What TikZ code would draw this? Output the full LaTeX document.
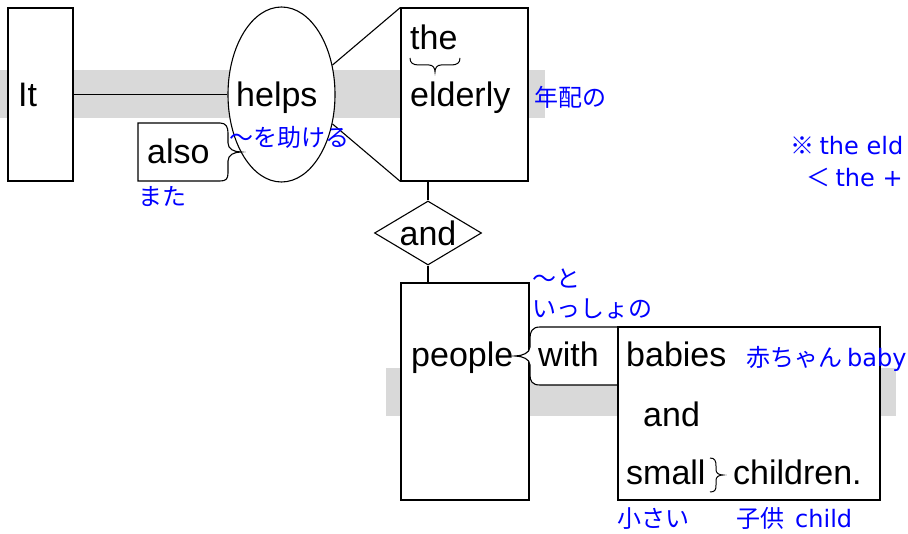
\documentclass[tikz,border=0pt]{standalone}
\usepackage{fontspec}
\setmainfont{Liberation Sans}
\newfontfamily\jpfont{Noto Sans CJK JP}
\newfontfamily\glatin{DejaVu Sans}
\usetikzlibrary{shapes.geometric}

\begin{document}
\begin{tikzpicture}[x=1pt,y=-1pt]
\tikzstyle{box} = [draw,fill=white,line width=1.1pt,inner sep=0pt]
\tikzstyle{word} = [inner sep=0pt,anchor=base west,font=\fontsize{34}{40}\selectfont]
\tikzstyle{gloss} = [inner sep=0pt,anchor=base west,text=blue,font=\jpfont\fontsize{24}{28}\selectfont]
\tikzstyle{band} = [fill=gray!30]
\tikzstyle{link} = [line width=1.1pt]

\pgfdeclarelayer{background}
\pgfsetlayers{background,main}

\useasboundingbox (0,0) rectangle (908,534);

\node[box,minimum width=65,minimum height=173] (it) at (40.5,94.5) {};
\node[box,ellipse,minimum width=107,minimum height=175] (helps) at (281.5,94.5) {};
\node[box,minimum width=127,minimum height=173] (elderly) at (464.5,94.5) {};
\node[box,diamond,aspect=1.67,minimum width=107,minimum height=64,font=\fontsize{34}{40}\selectfont] (and1) at (428,233) {and};
\node[box,minimum width=128,minimum height=217] (people) at (465,391.5) {};

\draw[link,fill=white] (618,327) -- (540,327) .. controls (532,327) and (530,332) .. (530,338) -- (530,347) .. controls (530,353) and (522,356) .. (515,356) .. controls (522,356) and (530,359) .. (530,365) -- (530,375) .. controls (530,381) and (532,385) .. (540,385) -- (618,385);
\node[box,minimum width=262,minimum height=173] (babies) at (749,413.5) {};

\draw[link,fill=white] (138,123) -- (220,123) .. controls (226,123) and (228,127) .. (228,133) -- (228,143) .. controls (228,149) and (234,152) .. (241,152) .. controls (234,152) and (228,155) .. (228,161) -- (228,173) .. controls (228,179) and (226,181) .. (220,181) -- (138,181) -- cycle;

\draw[link] (it) -- (helps);
\draw[link] (helps.30) -- (elderly.north west);
\draw[link] (helps.-30) -- (elderly.south west);
\draw[link] (and1) -- (and1 |- elderly.south);
\draw[link] (and1) -- (and1 |- people.north);

\draw[line width=1pt] (410,58) .. controls (410,63) and (413,65) .. (419,65) -- (429,65) .. controls (433,65) and (435,68) .. (435,72) .. controls (435,68) and (437,65) .. (441,65) -- (451,65) .. controls (457,65) and (460,63) .. (460,58);
\draw[line width=1pt] (710,458) .. controls (715,458) and (716,461) .. (716,466) -- (716,470) .. controls (716,473) and (719,475) .. (723,475) .. controls (719,475) and (716,477) .. (716,480) -- (716,485) .. controls (716,490) and (715,492) .. (710,492);

\node[word] (ittext) at (18,107) {It};
\node[word] (helpstext) at (236,107) {helps};
\node[word] (also) at (147,164) {also};
\node[word] (the) at (410,50) {the};
\node[word] (elderlytext) at (410,107) {elderly};
\node[word] (peopletext) at (411,367) {people};
\node[word] (with) at (538,367) {with};
\node[word] (babiestext) at (626,367) {babies};
\node[word] (and2) at (643,427) {and};
\node[word] (small) at (626,484) {small};
\node[word] (children) at (733,484) {children.};

\node[gloss] (nenpai) at (534,107) {年配の};
\node[gloss] (tasukeru) at (229,147) {〜を助ける};
\node[gloss] (mata) at (138,206) {また};
\node[gloss] (to) at (532,288) {〜と};
\node[gloss] (issho) at (532,318) {いっしょの};
\node[gloss] (akachan) at (746,367) {赤ちゃん\hspace{5pt}{\glatin baby}};
\node[gloss] (chiisai) at (617,527) {小さい};
\node[gloss] (kodomo) at (736,527) {子供\hspace{11pt}{\glatin child}};
\node[gloss] (note1) at (790,155) {※ {\glatin the eld}};
\node[gloss] (note2) at (806,187) {＜ {\glatin the +}};

\begin{pgfonlayer}{background}
\fill[band] (0,70) rectangle (545,118);
\fill[band] (386,368) rectangle (896,416);
\end{pgfonlayer}

\end{tikzpicture}
\end{document}
